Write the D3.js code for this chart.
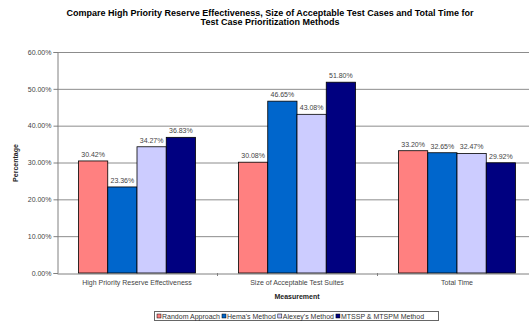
<!DOCTYPE html>
<html><head><meta charset="utf-8">
<script src="https://cdn.jsdelivr.net/npm/d3@7"></script>
<style>
html,body{margin:0;padding:0;background:#fff;overflow:hidden}
text{font-family:"Liberation Sans",Arial,sans-serif}
</style></head>
<body><svg id="c" width="529" height="322"></svg>
<script>
const categories = ["High Priority Reserve Effectiveness","Size of Acceptable Test Suites","Total Time"];
const seriesNames = ["Random Approach","Hema's Method","Alexey's Method","MTSSP & MTSPM Method"];
const randomApproach = [30.42, 30.08, 33.20];
const hemasMethod = [23.36, 46.65, 32.65];
const alexeysMethod = [34.27, 43.08, 32.47];
const mtsspMethod = [36.83, 51.80, 29.92];
const yTicks = [0,10,20,30,40,50,60];
const colors = ["#FF8080","#0066CC","#CCCCFF","#000080"];
const seriesValues = [randomApproach, hemasMethod, alexeysMethod, mtsspMethod];

const svg = d3.select("#c");
const pLeft = 57, pRight = 537, pTop = 52, pBottom = 273;
const x0 = d3.scaleBand().domain(categories).range([pLeft, pRight]).paddingInner(0).paddingOuter(0);
const x1 = d3.scaleBand().domain(seriesNames).range([0, x0.bandwidth()]).paddingInner(0).paddingOuter(0.735);
const y = d3.scaleLinear().domain([0,60]).range([pBottom, pTop]);

// gridlines
svg.append("g").selectAll("line").data(yTicks.filter(d=>d>0)).join("line")
  .attr("x1", pLeft).attr("x2", 529).attr("y1", d=>y(d)+0.5).attr("y2", d=>y(d)+0.5)
  .attr("stroke","#8c8c8c").attr("stroke-width",1);

// y axis
const yAxis = d3.axisLeft(y).tickValues(yTicks).tickSize(4).tickFormat(d=>d.toFixed(2)+"%");
const ya = svg.append("g").attr("transform",`translate(${pLeft+0.5},0)`).call(yAxis);
ya.select(".domain").attr("stroke","#808080");
ya.selectAll(".tick line").attr("stroke","#808080");
ya.selectAll(".tick text").attr("font-size","7px").attr("fill","#444").attr("x",-6);

// x axis
const xa = svg.append("g").attr("transform",`translate(0,${pBottom+0.5})`)
  .call(d3.axisBottom(x0).tickSize(0).tickPadding(7));
xa.select(".domain").attr("stroke","#808080");
xa.selectAll(".tick text").attr("font-size","7px").attr("fill","#444");
// category separator ticks
svg.append("g").selectAll("line").data(categories.slice(1)).join("line")
  .attr("x1", d=>x0(d)+0.5).attr("x2", d=>x0(d)+0.5).attr("y1", pBottom).attr("y2", pBottom+3)
  .attr("stroke","#808080");

// bars
const groups = svg.append("g").selectAll("g").data(categories).join("g")
  .attr("transform", d=>`translate(${x0(d)},0)`);
groups.each(function(cat, ci){
  const g = d3.select(this);
  seriesNames.forEach((s, si)=>{
    const v = seriesValues[si][ci];
    g.append("rect").attr("x", x1(s)).attr("y", y(v)).attr("width", x1.bandwidth()).attr("height", y(0)-y(v))
      .attr("fill", colors[si]).attr("stroke","#000").attr("stroke-width",0.8);
    g.append("text").attr("x", x1(s)+x1.bandwidth()/2).attr("y", y(v)-4)
      .attr("text-anchor","middle").attr("font-size","7px").attr("fill","#444").text(v.toFixed(2)+"%");
  });
});

// titles
svg.append("text").attr("x",270).attr("y",16).attr("text-anchor","middle").attr("font-size","9px").attr("font-weight","bold")
  .text("Compare High Priority Reserve Effectiveness, Size of Acceptable Test Cases and Total Time for");
svg.append("text").attr("x",270).attr("y",25).attr("text-anchor","middle").attr("font-size","9px").attr("font-weight","bold")
  .text("Test Case Prioritization Methods");
svg.append("text").attr("x",297).attr("y",299).attr("text-anchor","middle").attr("font-size","7px").attr("font-weight","bold").attr("fill","#222")
  .text("Measurement");
svg.append("text").attr("transform","translate(18,163) rotate(-90)").attr("text-anchor","middle").attr("font-size","7px").attr("font-weight","bold").attr("fill","#222")
  .text("Percentage");

// legend
const lg = svg.append("g");
lg.append("rect").attr("x",154.5).attr("y",311.5).attr("width",284).attr("height",9).attr("fill","#fff").attr("stroke","#666");
let lx = 157;
seriesNames.forEach((s,i)=>{
  lg.append("rect").attr("x",lx).attr("y",314).attr("width",4).attr("height",4).attr("fill",colors[i]).attr("stroke","#000").attr("stroke-width",0.5);
  const t = lg.append("text").attr("x",lx+5).attr("y",318.5).attr("font-size","7px").attr("fill","#333").text(s);
  lx += 5 + t.node().getComputedTextLength() + 2;
});
</script></body></html>
